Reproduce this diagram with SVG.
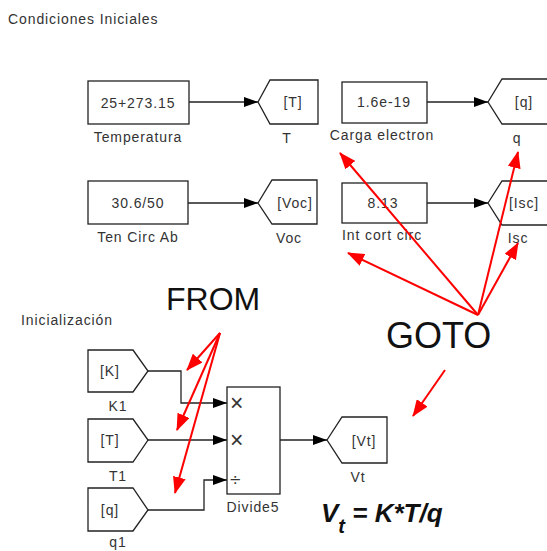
<svg xmlns="http://www.w3.org/2000/svg" width="547" height="551" viewBox="0 0 547 551">
<style>
.blk{fill:#fff;stroke:#222;stroke-width:1.3}
.t{font-family:"Liberation Sans",Arial,sans-serif;font-size:14px;fill:#333;letter-spacing:0.9px;text-anchor:middle}
.tl{font-family:"Liberation Sans",Arial,sans-serif;font-size:14px;fill:#333;letter-spacing:0.9px}
.op{font-family:"Liberation Sans",Arial,sans-serif;fill:#333}
.big{font-family:"Liberation Sans",Arial,sans-serif;fill:#111}
.w{fill:none;stroke:#222;stroke-width:1.3}
.r{fill:none;stroke:#f00;stroke-width:2}
</style>
<defs>
<marker id="ab" markerUnits="userSpaceOnUse" markerWidth="14" markerHeight="10" refX="14" refY="5" orient="auto"><path d="M0,0 L14,5 L0,10 z" fill="#000"/></marker>
<marker id="ar" markerUnits="userSpaceOnUse" markerWidth="17" markerHeight="13" refX="16" refY="6.5" orient="auto"><path d="M0,0 L17,6.5 L0,13 z" fill="#f00"/></marker>
</defs>
<rect width="547" height="551" fill="#fff"/>
<text class="tl" x="8" y="24">Condiciones Iniciales</text>
<text class="tl" x="21" y="325">Inicialización</text>

<g id="connectors">
<path class="w" d="M189,102 H258" marker-end="url(#ab)"/>
<path class="w" d="M427,102 H488" marker-end="url(#ab)"/>
<path class="w" d="M188,203 H258" marker-end="url(#ab)"/>
<path class="w" d="M427,203 H488" marker-end="url(#ab)"/>
<path class="w" d="M148,371 H181 V403 H227" marker-end="url(#ab)"/>
<path class="w" d="M148,440 H227" marker-end="url(#ab)"/>
<path class="w" d="M148,510 H204 V480 H227" marker-end="url(#ab)"/>
<path class="w" d="M280,440 H327" marker-end="url(#ab)"/>
</g>

<g id="temperatura"><rect class="blk" x="88" y="81" width="101" height="43"/><text class="t" x="138" y="108">25+273.15</text><text class="t" x="138" y="142">Temperatura</text></g>
<g id="goto-T"><polygon class="blk" points="258,102 270,80 318,80 318,124 270,124"/><text class="t" x="293" y="107">[T]</text><text class="t" x="287" y="143">T</text></g>
<g id="carga"><rect class="blk" x="342" y="82" width="85" height="41"/><text class="t" x="384" y="107">1.6e-19</text><text class="t" x="382" y="140">Carga electron</text></g>
<g id="goto-q"><polygon class="blk" points="488,102 502,79 549,79 549,124 502,124"/><text class="t" x="524" y="107">[q]</text><text class="t" x="517" y="143">q</text></g>
<g id="ten"><rect class="blk" x="88" y="181" width="100" height="43"/><text class="t" x="138" y="208">30.6/50</text><text class="t" x="138" y="242">Ten Circ Ab</text></g>
<g id="goto-Voc"><polygon class="blk" points="258,203 272,180 317,180 317,224 272,224"/><text class="t" x="295" y="208">[Voc]</text><text class="t" x="289" y="243">Voc</text></g>
<g id="int"><rect class="blk" x="342" y="183" width="85" height="40"/><text class="t" x="383" y="208">8.13</text><text class="t" x="382" y="240">Int cort circ</text></g>
<g id="goto-Isc"><polygon class="blk" points="488,203 502,181 549,181 549,225 502,225"/><text class="t" x="524" y="208">[Isc]</text><text class="t" x="518" y="243">Isc</text></g>

<g id="from-K"><polygon class="blk" points="88,350 133,350 148,371 133,392 88,392"/><text class="t" x="110" y="376">[K]</text><text class="t" x="118" y="411">K1</text></g>
<g id="from-T"><polygon class="blk" points="88,419 133,419 148,440 133,462 88,462"/><text class="t" x="110" y="445">[T]</text><text class="t" x="118" y="481">T1</text></g>
<g id="from-q"><polygon class="blk" points="88,488 133,488 148,510 133,531 88,531"/><text class="t" x="110" y="515">[q]</text><text class="t" x="118" y="547">q1</text></g>
<g id="divide5"><rect class="blk" x="227" y="387" width="53" height="107"/><text class="op" x="230" y="411" style="font-size:23px">×</text><text class="op" x="230" y="448" style="font-size:23px">×</text><text class="op" x="230" y="486" style="font-size:19px">÷</text><text class="t" x="253" y="512">Divide5</text></g>
<g id="goto-Vt"><polygon class="blk" points="327,440 342,417 387,417 387,463 342,463"/><text class="t" x="364" y="446">[Vt]</text><text class="t" x="358" y="482">Vt</text></g>

<text class="big" x="166" y="310" style="font-size:32px">FROM</text>
<text class="big" x="386" y="348" style="font-size:36px">GOTO</text>
<text class="big" x="321" y="522" style="font-size:26px;font-weight:bold;font-style:italic">V<tspan dy="11" style="font-size:20px">t</tspan><tspan dy="-11"> = K*T/q</tspan></text>

<g id="annotations">
<line class="r" x1="220" y1="333" x2="187" y2="370" marker-end="url(#ar)"/>
<line class="r" x1="220" y1="333" x2="177" y2="430" marker-end="url(#ar)"/>
<line class="r" x1="220" y1="333" x2="175" y2="493" marker-end="url(#ar)"/>
<line class="r" x1="478" y1="315" x2="340" y2="153" marker-end="url(#ar)"/>
<line class="r" x1="478" y1="315" x2="518" y2="152" marker-end="url(#ar)"/>
<line class="r" x1="478" y1="315" x2="348" y2="253" marker-end="url(#ar)"/>
<line class="r" x1="478" y1="315" x2="518" y2="243" marker-end="url(#ar)"/>
<line class="r" x1="445" y1="370" x2="413" y2="416" marker-end="url(#ar)"/>
</g>
</svg>
